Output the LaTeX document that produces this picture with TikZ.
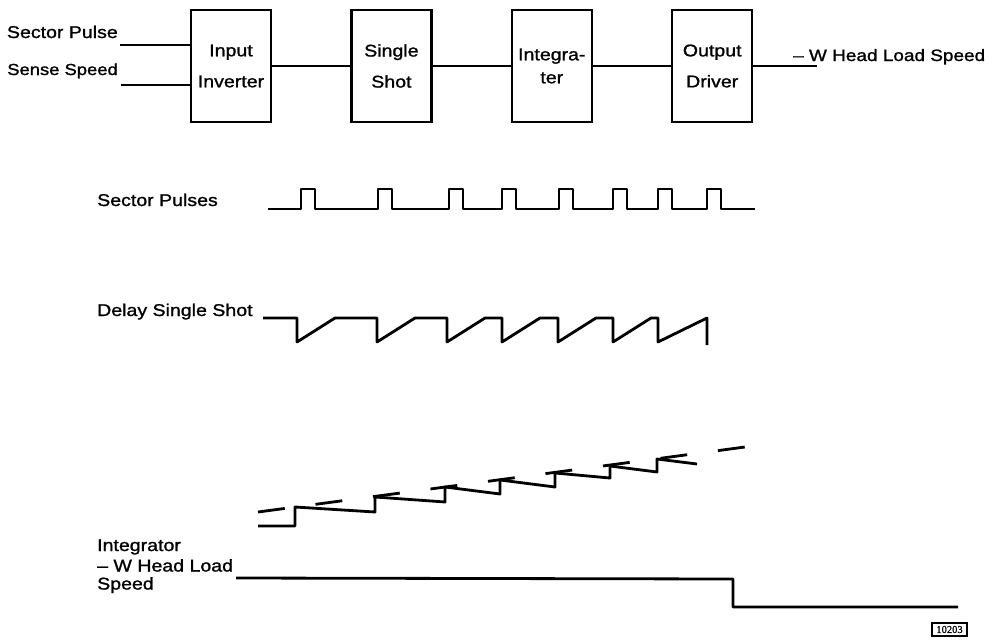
\documentclass[tikz,border=0pt]{standalone}
\usepackage{fontspec}
\setmainfont[FakeStretch=1.15,FakeBold=1.2]{Liberation Sans}
\newfontfamily\tagfont[FakeBold=1]{Liberation Serif}
\usetikzlibrary{positioning}

\begin{document}
\begin{tikzpicture}[
    x=1pt,
    y=-1pt,
    node distance=78pt,
    font=\fontsize{17}{31}\selectfont,
    blk/.style={
        draw,
        line width=2.4pt,
        align=center,
        minimum width=80pt,
        minimum height=112pt,
        inner sep=0pt
    },
    wire/.style={
        line width=2.4pt
    },
    wave/.style={
        line width=2.8pt,
        line join=round
    },
    lbl/.style={
        inner sep=0pt,
        align=left
    }
]

\useasboundingbox (0,0) rectangle (992,642);

\node[blk] (inv) at (231,66)
{Input\\Inverter};

\node[blk,right=of inv] (ss)
{Single\\Shot};

\node[blk,right=of ss,font=\fontsize{17}{23}\selectfont] (intg)
{Integra-\\ter};

\node[blk,right=of intg] (drv)
{Output\\Driver};

\node[lbl,anchor=base east] (sectin) at (118,38)
{Sector Pulse};

\node[lbl,anchor=base east,font=\fontsize{16}{20}\selectfont] (sensein) at (118,75)
{Sense Speed};

\coordinate (sectend) at (120,45);
\coordinate (senseend) at (121,85);
\coordinate (outend) at (817,66);

\node[lbl,anchor=base west,font=\fontsize{16.5}{20}\selectfont] (outlbl) at (793,61)
{– W Head Load Speed};

\draw[wire] (sectend)--(sectend -| inv.west);
\draw[wire] (senseend)--(senseend -| inv.west);
\draw[wire] (inv)--(ss);
\draw[wire] (ss)--(intg);
\draw[wire] (intg)--(drv);
\draw[wire] (drv)--(outend);

\node[lbl,anchor=base west] (pulselbl) at (97,206)
{Sector Pulses};

\node[lbl,anchor=base west] (delaylbl) at (97,316)
{Delay Single Shot};

\node[lbl,anchor=base west] (intlbl) at (97,551)
{Integrator};

\node[lbl,anchor=north west,font=\fontsize{17}{18}\selectfont] (speedlbl) at (97,559)
{– W Head Load\\Speed};

\draw[wave] (268,209)
    foreach \x in {301,378,449,502,559,613,658,707} {
        --(\x,209)--(\x,189)--++(14,0)--++(0,20)
    }
    --(755,209);

\draw[wave] (263,318)
    foreach \x in {297,377,447,502,558,613} {
        --(\x,318)--(\x,342)--++(38,-24)
    }
    --(658,318)--(658,342)--(707,318)--(707,345);

\draw[wave] (258,526)--(295,526)--(295,507)--(375,512)--(375,497)
    --(445,502)--(445,487)--(500,494)--(500,480)--(555,487)
    --(555,473)--(610,478)--(610,466)--(657,472)--(657,459)--(697,464);

\draw[wave,dash pattern=on 27pt off 31pt] (258,512)--(745,447);

\draw[wave] (236,578)--(733,579)--(733,607)--(958,607);

\node[draw,line width=1.2pt,font=\tagfont\fontsize{10.5}{11}\selectfont,
    minimum width=35pt,minimum height=13pt,inner sep=1pt] (tag) at (949.5,629.5)
{10203};

\end{tikzpicture}
\end{document}
